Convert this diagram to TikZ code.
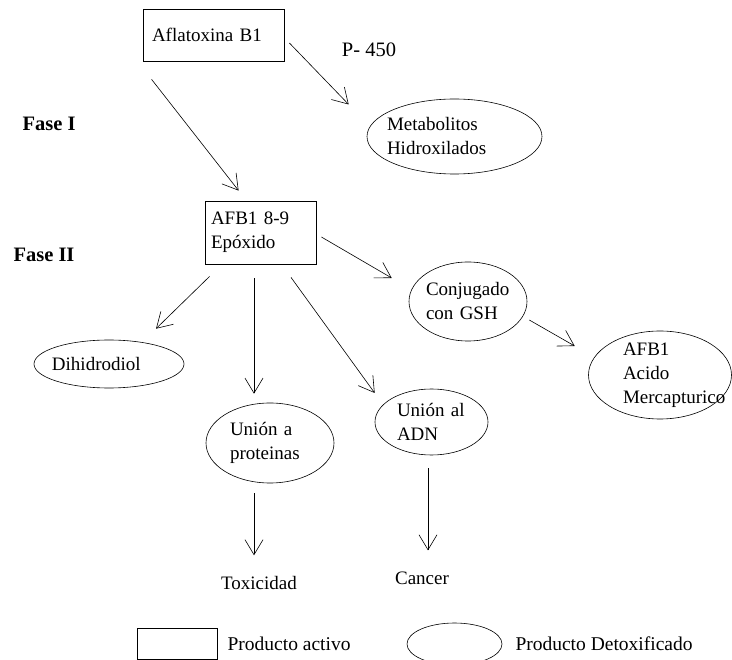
\documentclass[tikz,border=0pt]{standalone}
\usepackage{fontspec}
\setmainfont{Liberation Serif}
\usetikzlibrary{arrows.meta,positioning,shapes.geometric}

\begin{document}
\begin{tikzpicture}[x=1pt,y=-1pt,>={Straight Barb[length=15pt,width=18pt]},
  font=\fontsize{19}{24}\selectfont,
  act/.style={draw,rectangle,inner sep=0pt,align=left,line width=0.8pt},
  prod/.style={draw,ellipse,inner sep=-10pt,align=left,line width=0.6pt},
  fase/.style={font=\fontsize{20.5}{24}\selectfont\bfseries}]
  \useasboundingbox (0,0) rectangle (732,660);
  % fase I
  \node[act,minimum width=141pt,minimum height=52pt,text width=123pt] (afla) at (213.5,35) {Aflatoxina B1};
  \node[font=\fontsize{20.5}{24}\selectfont] (p450) at (369,50) {P- 450};
  \node[fase] (fase1) at (49,124) {Fase I};
  \node[prod,minimum width=175pt,minimum height=75pt,text width=135pt] (meta) at (454.5,136.5) {Metabolitos\\
  Hidroxilados};
  \node[act,minimum width=111pt,minimum height=63pt,text width=99pt] (epox) at (260.5,232.5) {AFB1 8-9\\
  Epóxido};
  % fase II
  \node[fase] (fase2) at (44,255) {Fase II};
  \node[prod,minimum width=150pt,minimum height=48pt,text width=114pt] (dihi) at (109,364) {Dihidrodiol};
  \node[prod,minimum width=118pt,minimum height=79pt,text width=84pt] (conj) at (468,301.5) {Conjugado\\
  con GSH};
  \node[prod,minimum width=143pt,minimum height=88pt,text width=74pt] (merc) at (660,375) {AFB1\\
  Acido\\
  Mercapturico};
  \node[prod,minimum width=128pt,minimum height=80pt,text width=80pt] (prot) at (270,443) {Unión a\\
  proteinas};
  \node[prod,minimum width=113pt,minimum height=66pt,text width=69pt] (adn) at (431.5,422) {Unión al\\
  ADN};
  \node (toxi) at (259,583) {Toxicidad};
  \node (canc) at (422,578) {Cancer};
  \draw[->,line width=0.6pt] ([shift={(5,8)}]afla.east) -- ([shift={(-18,-32)}]meta.west);
  \draw[->,line width=0.6pt] ([shift={(9,18)}]afla.south west) -- ([shift={(34,-10)}]epox.north west);
  \draw[->,line width=0.6pt] ([shift={(5,4.5)}]epox.east) -- ([shift={(-17,-23.5)}]conj.west);
  \draw[->,line width=0.6pt] ([shift={(5,12)}]epox.south west) -- ([shift={(47,-11)}]dihi.north);
  \draw[->,line width=0.6pt] ([shift={(-6.5,14)}]epox.south) -- ([shift={(-16,-9)}]prot.north);
  \draw[->,line width=0.6pt] ([shift={(30.5,13)}]epox.south) -- ([shift={(0,-29)}]adn.west);
  \draw[->,line width=0.6pt] ([shift={(2,18.5)}]conj.east) -- ([shift={(-13.5,-29)}]merc.west);
  \draw[->,line width=0.6pt] ([shift={(-16,10)}]prot.south) -- ([shift={(-5,-17.5)}]toxi.north);
  \draw[->,line width=0.6pt] ([shift={(-3.5,13)}]adn.south) -- ([shift={(6,-17.7)}]canc.north);
  % leyenda
  \node[act,minimum width=80pt,minimum height=31pt] (legact) at (177,643.5) {};
  \node[right=10pt of legact,inner sep=0pt,font=\fontsize{19.5}{24}\selectfont] (legacttxt) {Producto activo};
  \node[prod,inner sep=0pt,minimum width=95pt,minimum height=42pt] (legdet) at (454.5,644) {};
  \node[right=13pt of legdet,inner sep=0pt,font=\fontsize{19.5}{24}\selectfont] (legdettxt) {Producto Detoxificado};
\end{tikzpicture}
\end{document}
